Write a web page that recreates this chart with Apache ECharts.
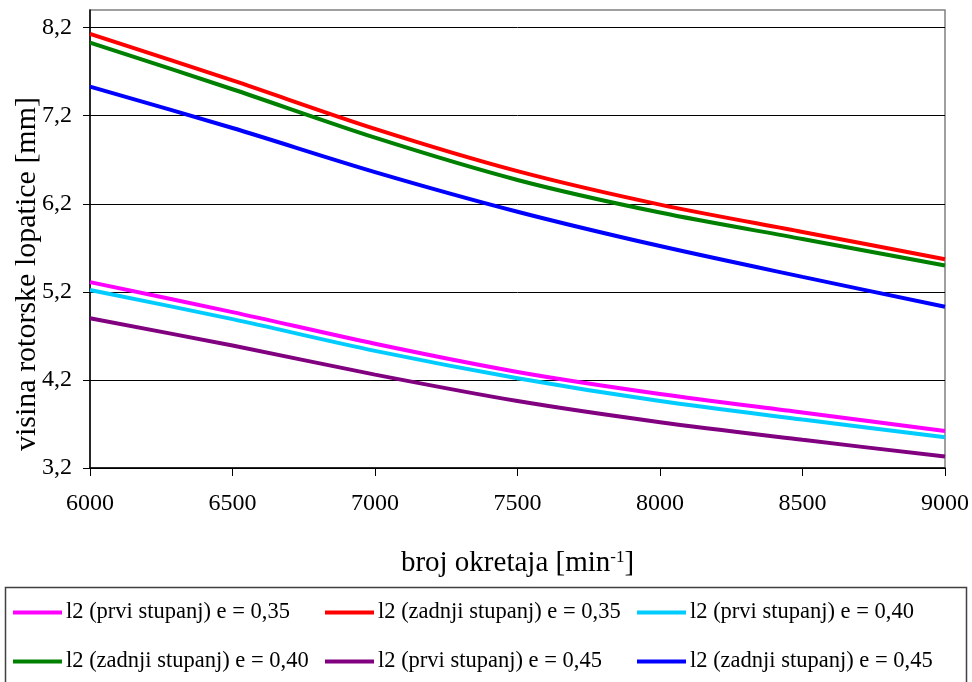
<!DOCTYPE html>
<html>
<head>
<meta charset="utf-8">
<script src="https://cdn.jsdelivr.net/npm/echarts@6/dist/echarts.min.js"></script>
<style>html,body{margin:0;padding:0;background:#fff}#c{width:972px;height:682px}</style>
</head>
<body>
<div id="c"></div>
<script>
var rpm = [6000, 6500, 7000, 7500, 8000, 8500, 9000];
var yTicks = [3.2, 4.2, 5.2, 6.2, 7.2, 8.2];
var prvi035   = [5.31, 4.97, 4.61, 4.29, 4.04, 3.83, 3.62];
var zadnji035 = [8.13, 7.60, 7.05, 6.57, 6.19, 5.88, 5.57];
var prvi040   = [5.22, 4.89, 4.53, 4.22, 3.96, 3.75, 3.55];
var zadnji040 = [8.03, 7.50, 6.95, 6.47, 6.10, 5.80, 5.50];
var prvi045   = [4.90, 4.59, 4.26, 3.96, 3.72, 3.52, 3.33];
var zadnji045 = [7.53, 7.06, 6.56, 6.11, 5.72, 5.37, 5.03];
var names = [
  'l2 (prvi stupanj) e = 0,35',
  'l2 (zadnji stupanj) e = 0,35',
  'l2 (prvi stupanj) e = 0,40',
  'l2 (zadnji stupanj) e = 0,40',
  'l2 (prvi stupanj) e = 0,45',
  'l2 (zadnji stupanj) e = 0,45'
];
var colors = ['#FF00FF', '#FF0000', '#00CCFF', '#008000', '#800080', '#0000FF'];
var values = [prvi035, zadnji035, prvi040, zadnji040, prvi045, zadnji045];

function pairs(v) { return rpm.map(function (x, i) { return [x, v[i]]; }); }

var FONT = 'Liberation Serif';
var legendPos = [[13, 601], [325, 601], [637, 601], [13, 650], [325, 650], [637, 650]];
var legends = names.map(function (n, i) {
  return {
    left: legendPos[i][0], top: legendPos[i][1],
    data: [n], icon: 'rect', itemWidth: 49, itemHeight: 4, itemGap: 0,
    padding: 0, selectedMode: false,
    textStyle: { fontFamily: FONT, fontSize: 22.5, color: '#000', padding: [0, 0, 0, -1] }
  };
});

var chart = echarts.init(document.getElementById('c'), null, { renderer: 'canvas' });
chart.setOption({
  animation: false,
  color: colors,
  grid: {
    left: 90, right: 27, top: 10, bottom: 214, show: true,
    borderColor: '#808080', borderWidth: 1.5,
    containLabel: false, outerBoundsMode: 'none'
  },
  legend: legends,
  graphic: [{
    type: 'rect', shape: { x: 5.5, y: 587.5, width: 961, height: 110 },
    style: { fill: 'none', stroke: '#404040', lineWidth: 1.5 }, silent: true
  }],
  xAxis: {
    type: 'value', min: 6000, max: 9000, interval: 500,
    name: 'broj okretaja [min{sup|-1}]', nameLocation: 'middle', nameGap: 81,
    nameMoveOverlap: false,
    nameTextStyle: {
      fontFamily: FONT, fontSize: 29, color: '#000',
      rich: { sup: { fontFamily: FONT, fontSize: 17, color: '#000', verticalAlign: 'top', lineHeight: 16 } }
    },
    axisLine: { lineStyle: { color: '#000', width: 1.5 } },
    axisTick: { show: true, length: 8, lineStyle: { color: '#000' } },
    axisLabel: { fontFamily: FONT, fontSize: 24, color: '#000', margin: 24, formatter: function (v) { return String(v); } },
    splitLine: { show: false }
  },
  yAxis: {
    type: 'value', min: 3.2, max: 8.4, interval: 1,
    name: 'visina rotorske lopatice [mm]', nameLocation: 'middle', nameGap: 48,
    nameMoveOverlap: false,
    nameTextStyle: { fontFamily: FONT, fontSize: 30, color: '#000', padding: [0, 70, 0, 0] },
    axisLine: { show: true, lineStyle: { color: '#000', width: 1.5 } },
    axisTick: { show: true, length: 7, customValues: yTicks, lineStyle: { color: '#000' } },
    axisLabel: {
      fontFamily: FONT, fontSize: 24, color: '#000', margin: 18, customValues: yTicks,
      formatter: function (v) { return v > 8.3 ? '' : v.toFixed(1).replace('.', ','); }
    },
    splitLine: { show: true, lineStyle: { color: ['#000', '#000', '#000', '#000', '#000', '#000', '#808080'], width: 1 } }
  },
  series: values.map(function (v, i) {
    return {
      type: 'line', name: names[i], data: pairs(v), smooth: 0.3,
      showSymbol: false, lineStyle: { width: 4, color: colors[i] }, itemStyle: { color: colors[i] }
    };
  })
});
</script>
</body>
</html>
